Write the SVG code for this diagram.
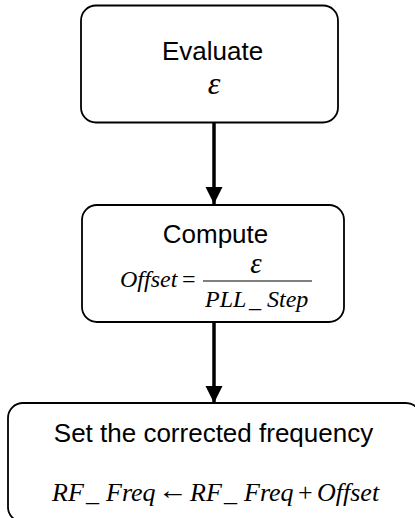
<svg xmlns="http://www.w3.org/2000/svg" width="415" height="518" viewBox="0 0 415 518">
<style>
.box{fill:#fff;stroke:#000;stroke-width:1.8}
.lbl{font-family:"Liberation Sans",Arial,sans-serif;font-size:26px;fill:#000}
.m{font-family:"Liberation Serif","Times New Roman",serif;font-style:italic;fill:#000}
.mu{font-family:"Liberation Serif","Times New Roman",serif;font-style:normal;fill:#000}
.conn{stroke:#000;stroke-width:3.5;fill:none}
</style>
<defs>
<marker id="ah" markerUnits="userSpaceOnUse" markerWidth="18" markerHeight="18" refX="17" refY="8.5" orient="auto">
<path d="M0,0 L17,8.5 L0,17 Z" fill="#000"/>
</marker>
</defs>
<rect width="415" height="518" fill="#fff"/>
<g id="connectors">
<line class="conn" x1="214" y1="123" x2="214" y2="204" marker-end="url(#ah)"/>
<line class="conn" x1="214" y1="323" x2="214" y2="403" marker-end="url(#ah)"/>
</g>
<g id="evaluate">
<rect class="box" x="81" y="5.5" width="257" height="117" rx="15"/>
<text class="lbl" x="212.5" y="60" text-anchor="middle">Evaluate</text>
<text class="m" x="214" y="94" text-anchor="middle" font-size="32">ε</text>
</g>
<g id="compute">
<rect class="box" x="82" y="205" width="262" height="117" rx="15"/>
<text class="lbl" x="215.5" y="243" text-anchor="middle">Compute</text>
<text class="m" x="120" y="287" font-size="24">Offset</text>
<text class="mu" x="182" y="287" font-size="24">=</text>
<line x1="203" y1="281" x2="312" y2="281" stroke="#000" stroke-width="1.2"/>
<text class="m" x="256" y="273" text-anchor="middle" font-size="29">ε</text>
<text class="m" y="307" font-size="24"><tspan x="205">PLL</tspan><tspan x="249">_</tspan><tspan x="267">Step</tspan></text>
</g>
<g id="set-frequency">
<rect class="box" x="8" y="403" width="413" height="119" rx="15"/>
<text class="lbl" x="213.5" y="442" text-anchor="middle">Set the corrected frequency</text>
<text class="m" y="501" font-size="26"><tspan x="52">RF</tspan><tspan x="86">_</tspan><tspan x="106">Freq</tspan><tspan x="190">RF</tspan><tspan x="224">_</tspan><tspan x="244">Freq</tspan><tspan class="mu" x="298">+</tspan><tspan x="317">Offset</tspan></text>
<text class="mu" x="158" y="499" font-size="26" textLength="30" lengthAdjust="spacingAndGlyphs">←</text>
</g>
</svg>
